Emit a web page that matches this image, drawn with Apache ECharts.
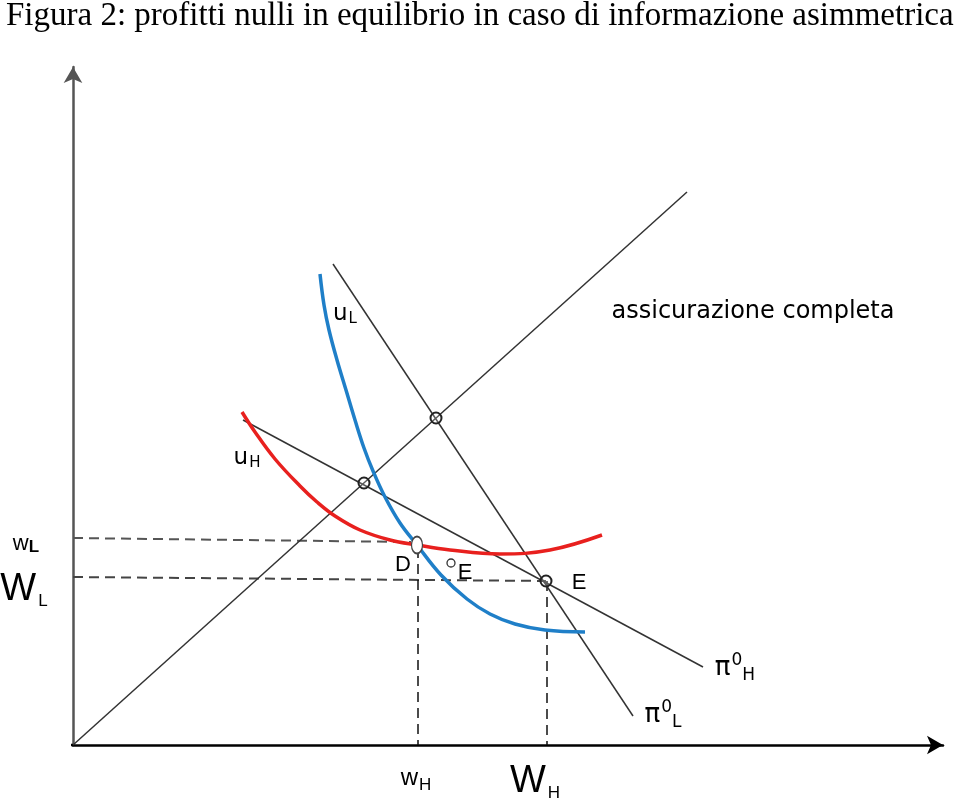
<!DOCTYPE html>
<html><head><meta charset="utf-8">
<script src="https://cdn.jsdelivr.net/npm/echarts@6/dist/echarts.min.js"></script>
<style>html,body{margin:0;padding:0;background:#fff}#c{width:960px;height:802px}</style>
</head><body><div id="c"></div>
<script>
// Coordinates: x = horizontal distance from origin, y = vertical distance from origin
const fullInsurance = [[0,0],[614,553]];
const pi0L = [[260,481],[560,29]];
const pi0H = [[170,325],[630,78]];
const uL = [[247,471],[251,440],[256,415],[264,385],[273,355],[282,325],[291,297],[300,274],[312,248],[327,222],[344,200],[368,170],[394,146],[417,131],[442,121],[472,115],[512,113]];
const uH = [[169,333],[182,313],[202,286],[227,259],[244,243],[262,229],[287,215],[317,205],[344,200],[377,195],[427,191],[477,195],[529,210]];
const dashWL = [[0,207],[338,203]];
const dashWLbig = [[0,168],[473,164]];
const dashWH = [[345,197],[345,0]];
const dashWHbig = [[474,164],[474,0]];
const xAxisTail = [[-10,0],[0,0]];
const crossings = [[363,327],[291,262],[473,164]];
const pointD = [[344,200]];
const pointEsmall = [[378,182]];
const labels = [
  {name:'uL', value:[272,431], text:'{u|u}{s|L}'},
  {name:'uH', value:[174,287], text:'{u|u}{s|H}'},
  {name:'ac', value:[680,433], text:'{t|assicurazione completa}'},
  {name:'wL', value:[-47,201], text:'{w|w}{ws|L}'},
  {name:'WL', value:[-49,155], text:'{W|W}{Ws|L}'},
  {name:'D', value:[330,180], text:'{p|D}'},
  {name:'E1', value:[392,172], text:'{p|E}'},
  {name:'E2', value:[506,162], text:'{p|E}'},
  {name:'piH', value:[662,77], text:'{pi|π}{sup|0}{sub|H}'},
  {name:'piL', value:[590,30], text:'{pi|π}{sup|0}{sub|L}'},
  {name:'wH', value:[343,-33], text:'{w2|w}{ws2|H}'},
  {name:'WH', value:[462,-37], text:'{W|W}{Ws|H}'}
];
const titleText = 'Figura 2: profitti nulli in equilibrio in caso di informazione asimmetrica';

const thin = {color:'#333', width:1.5};
function lineSeries(data, style, z){
  return {type:'line', data:data, symbol:'none', lineStyle:style, silent:true, z:z||2, clip:false, animation:false};
}
const K = '#000';
const rich = {
  u:{fontFamily:'DejaVu Sans', fontSize:23, color:K},
  s:{fontFamily:'DejaVu Sans', fontSize:15, color:K, padding:[10,0,0,1]},
  t:{fontFamily:'DejaVu Sans', fontSize:24, color:K},
  w:{fontFamily:'Liberation Sans', fontSize:22, color:K},
  ws:{fontFamily:'Liberation Sans', fontSize:17, fontWeight:'bold', color:K, padding:[6,0,0,0]},
  W:{fontFamily:'Liberation Sans', fontSize:38, color:K},
  Ws:{fontFamily:'Liberation Sans', fontSize:17, color:K, padding:[22,0,0,2]},
  p:{fontFamily:'Liberation Sans', fontSize:22, color:K},
  pi:{fontFamily:'DejaVu Sans', fontSize:26, color:K},
  sup:{fontFamily:'DejaVu Sans', fontSize:17, color:K, padding:[0,0,14,1]},
  sub:{fontFamily:'DejaVu Sans', fontSize:17, color:K, padding:[16,0,0,0]},
  w2:{fontFamily:'Liberation Sans', fontSize:24, color:K},
  ws2:{fontFamily:'Liberation Sans', fontSize:17, color:K, padding:[14,0,0,1]}
};

const chart = echarts.init(document.getElementById('c'), null, {renderer:'canvas'});
chart.setOption({
  animation:false,
  backgroundColor:'#fff',
  title:{text:titleText, left:1, top:-5, textStyle:{fontFamily:'Liberation Serif', fontSize:33, fontWeight:'normal', color:'#000'}},
  grid:{left:73, top:67, right:17, bottom:57},
  xAxis:{type:'value', min:0, max:870, axisLabel:{show:false}, axisTick:{show:false}, splitLine:{show:false},
    axisLine:{onZero:false, symbol:['none','arrow'], symbolSize:[14,16], lineStyle:{color:'#000', width:2.5}}},
  yAxis:{type:'value', min:0, max:678, axisLabel:{show:false}, axisTick:{show:false}, splitLine:{show:false},
    axisLine:{onZero:false, symbol:['none','arrow'], symbolSize:[14,16], lineStyle:{color:'#555', width:2.5}}},
  series:[
    lineSeries(xAxisTail, {color:'#000', width:2.5}),
    lineSeries(dashWL, {color:'#555', width:2, type:[10,6]}),
    lineSeries(dashWLbig, {color:'#444', width:2, type:[10,6]}),
    lineSeries(dashWH, {color:'#111', width:1.5, type:[10,6]}),
    lineSeries(dashWHbig, {color:'#111', width:1.5, type:[10,6]}),
    lineSeries(fullInsurance, thin),
    lineSeries(pi0L, thin),
    lineSeries(pi0H, thin),
    Object.assign(lineSeries(uH, {color:'#e8201e', width:3.5}, 3), {smooth:0.4}),
    Object.assign(lineSeries(uL, {color:'#1f7fc8', width:3.5}, 4), {smooth:0.4}),
    {type:'scatter', data:crossings, symbol:'circle', symbolSize:11, itemStyle:{opacity:1, color:'rgba(255,255,255,0.2)', borderColor:'#222', borderWidth:2}, z:5, silent:true},
    {type:'scatter', data:pointD, symbol:'circle', symbolSize:[11,17], itemStyle:{opacity:1, color:'#fff', borderColor:'#444', borderWidth:1.5}, z:6, silent:true},
    {type:'scatter', data:pointEsmall, symbol:'circle', symbolSize:8, itemStyle:{opacity:1, color:'#fff', borderColor:'#333', borderWidth:1.3}, z:6, silent:true},
    {type:'scatter', clip:false, symbolSize:0, z:7, silent:true, itemStyle:{opacity:1},
      data:labels.map(l=>({name:l.name, value:l.value, label:{show:true, position:'inside', color:K, formatter:l.text, rich:rich, align:'center', verticalAlign:'middle'}}))}
  ]
});
</script></body></html>
